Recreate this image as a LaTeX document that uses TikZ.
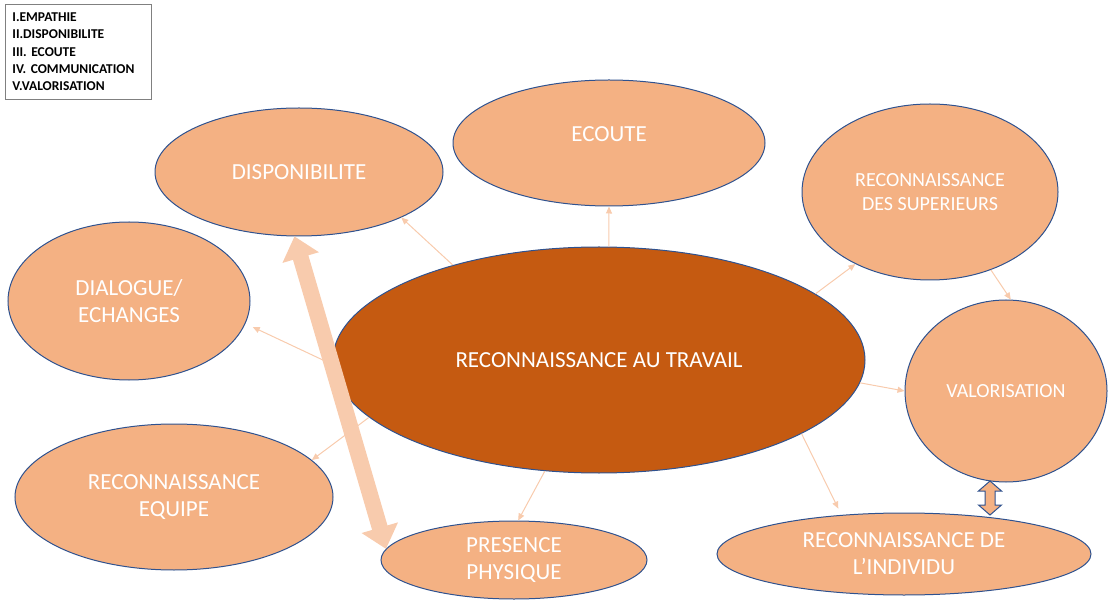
\documentclass[tikz,border=0pt]{standalone}
\usepackage{fontspec}
\setmainfont{Carlito}
\usetikzlibrary{shapes.geometric,arrows.meta,calc,positioning}

\definecolor{lightor}{HTML}{F4B183}
\definecolor{darkor}{HTML}{C55A11}
\definecolor{rimblue}{HTML}{2F528F}
\definecolor{linkor}{HTML}{F8CBAD}

\tikzset{
  bubbletext/.style={text=white,font=\fontsize{23}{27}\selectfont},
  bubble/.style={ellipse,draw=rimblue,fill=lightor,line width=1pt,inner sep=0pt,align=center,bubbletext},
  link/.style={draw=linkor,line width=1pt,-{Triangle[length=7pt,width=6pt]}},
}

\begin{document}
\frenchspacing
\begin{tikzpicture}[x=1pt,y=-1pt]
        \useasboundingbox (0,0) rectangle (1108,601);
        % legende
        \node[draw=gray,line width=0.8pt,anchor=north west,align=left,text width=132pt,
              inner xsep=7pt,inner ysep=8.5pt,font=\fontsize{13.5}{17.2}\selectfont\bfseries] (legend) at (5,4)
              {I.EMPATHIE\\II.DISPONIBILITE\\III. ECOUTE\\IV. COMMUNICATION\\V.VALORISATION};
        % bulles
        \node[bubble,minimum width=288pt,minimum height=128pt] (dispo) at (299,172) {DISPONIBILITE};
        \node[bubble,minimum width=312pt,minimum height=126pt,
              label={[bubbletext,yshift=9pt]center:ECOUTE}] (ecoute) at (609,143) {};
        \node[bubble,minimum width=256pt,minimum height=176pt,font=\fontsize{20}{24}\selectfont] (sup) at (930,192) {RECONNAISSANCE\\DES SUPERIEURS};
        \node[bubble,minimum width=242pt,minimum height=158pt] (dial) at (129,301) {DIALOGUE/\\ECHANGES};
        \node[bubble,fill=darkor,minimum width=532pt,minimum height=226pt] (recon) at (599,360) {RECONNAISSANCE AU TRAVAIL};
        \node[bubble,minimum width=202pt,minimum height=182pt,font=\fontsize{20}{24}\selectfont] (valo) at (1006,391) {VALORISATION};
        \node[bubble,minimum width=318pt,minimum height=146pt] (equipe) at (174,497) {RECONNAISSANCE\\EQUIPE};
        \node[bubble,minimum width=266pt,minimum height=78pt] (presence) at (514,560) {PRESENCE\\PHYSIQUE};
        \node[bubble,minimum width=374pt,minimum height=82pt] (individu) at (904,554) {RECONNAISSANCE DE\\L’INDIVIDU};
        % liens
        \draw[link] (recon.147) -- (dispo.-24);
        \draw[link] (recon.85) -- (ecoute.-90);
        \draw[link] (recon.17) -- (sup.-136);
        \draw[link,shorten >=8pt] (recon.181) -- (dial.-11);
        \draw[link] (recon.194) -- (equipe.15);
        \draw[link] (recon.244) -- (presence.84);
        \draw[link,shorten >=7pt] (recon.340) -- (individu.148);
        \draw[link] (recon.-5) -- (valo.180);
        \draw[link] (sup.-52) -- (valo.87);
        % grande double fleche
        \coordinate (ta) at (dispo.266);
        \coordinate (tb) at (presence.175);
        \coordinate (ha) at ($(ta)!22pt!(tb)$);
        \coordinate (hb) at ($(tb)!22pt!(ta)$);
        \fill[linkor] (ta) -- ($(ha)!19pt!90:(tb)$) -- ($(ha)!8pt!90:(tb)$) -- ($(hb)!8pt!-90:(ta)$)
          -- ($(hb)!19pt!-90:(ta)$) -- (tb) -- ($(hb)!19pt!90:(ta)$) -- ($(hb)!8pt!90:(ta)$)
          -- ($(ha)!8pt!-90:(tb)$) -- ($(ha)!19pt!-90:(tb)$) -- cycle;
        % petite double fleche
        \filldraw[fill=lightor,draw=rimblue,line width=1pt] (990,481) -- (1001.5,491) -- (995,491) -- (995,505)
          -- (1001.5,505) -- (990,515) -- (978.5,505) -- (985,505) -- (985,491) -- (978.5,491) -- cycle;
\end{tikzpicture}
\end{document}
